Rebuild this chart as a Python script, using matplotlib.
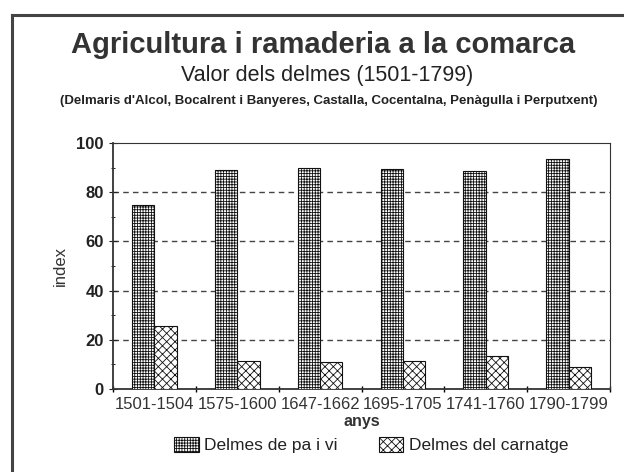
import numpy as np
import matplotlib.pyplot as plt
from matplotlib.lines import Line2D

plt.rcParams['font.family'] = ['Liberation Sans', 'DejaVu Sans']
plt.rcParams['hatch.linewidth'] = 0.6

periods = ['1501-1504', '1575-1600', '1647-1662', '1695-1705', '1741-1760', '1790-1799']
pa_vi = [75, 89, 90, 89.5, 88.5, 93.5]
carnatge = [25.5, 11.5, 11, 11.5, 13.5, 9]

W, H = 624, 472
fig = plt.figure(figsize=(W / 100, H / 100), dpi=100)

# outer frame of the original picture
fig.add_artist(Line2D([12 / W, 12 / W], [0, 1 - 15 / H], color='#444', lw=2.2, transform=fig.transFigure))
fig.add_artist(Line2D([12 / W, 1], [1 - 15 / H, 1 - 15 / H], color='#444', lw=2.2, transform=fig.transFigure))

ax = fig.add_axes([113 / W, 1 - 389 / H, (610 - 113) / W, (389 - 143) / H])

x = np.arange(len(periods))
bw = 0.27
ax.bar(x - bw / 2, pa_vi, bw, color='white', edgecolor='#111', hatch='++++++', lw=0.8,
       label='Delmes de pa i vi', zorder=3)
ax.bar(x + bw / 2, carnatge, bw, color='white', edgecolor='#111', hatch='xxxx', lw=0.8,
       label='Delmes del carnatge', zorder=3)

ax.set_xlim(-0.5, len(periods) - 0.5)
ax.set_ylim(0, 100)
ax.set_yticks([0, 20, 40, 60, 80, 100])
ax.set_yticks(np.arange(0, 101, 10), minor=True)
ax.set_xticks(x)
ax.set_xticklabels(periods, fontsize=12, color='#333')
ax.set_xticks(np.arange(-0.5, len(periods)), minor=True)
ax.tick_params(axis='x', which='major', length=0, pad=6)
ax.tick_params(axis='x', which='minor', length=5, direction='inout', width=1)
ax.tick_params(axis='y', which='major', length=6, direction='inout', labelsize=12, colors='#222')
ax.tick_params(axis='y', which='minor', length=3, direction='inout')
for lbl in ax.get_yticklabels():
    lbl.set_fontweight('bold')

for v in [20, 40, 60, 80]:
    ax.axhline(v, color='#444', lw=1, ls=(0, (4, 3)), zorder=1)

for s in ax.spines.values():
    s.set_color('#333')
ax.spines['left'].set_linewidth(1.3)
ax.spines['bottom'].set_linewidth(1.3)
ax.spines['top'].set_linewidth(0.8)
ax.spines['right'].set_linewidth(0.8)

ax.set_xlabel('anys', fontsize=11.5, fontweight='bold', color='#333', labelpad=1)
ax.set_ylabel('index', fontsize=12, color='#333', labelpad=6)

fig.text(0.518, 1 - 45 / H, 'Agricultura i ramaderia a la comarca', ha='center', va='center',
         fontsize=21, fontweight='bold', color='#333')
fig.text(0.525, 1 - 75 / H, 'Valor dels delmes (1501-1799)', ha='center', va='center',
         fontsize=15.5, color='#222')
fig.text(0.527, 1 - 101 / H,
         "(Delmaris d'Alcol, Bocalrent i Banyeres, Castalla, Cocentalna, Penàgulla i Perputxent)",
         ha='center', va='center', fontsize=9.5, fontweight='bold', color='#222')

fig.legend(loc='center', bbox_to_anchor=(0.595, 1 - 445 / H), ncol=2, frameon=False,
           fontsize=12.5, handlelength=1.4, handleheight=1.0, handletextpad=0.3, columnspacing=2.4,
           labelcolor='#222')

fig.savefig('out.png', dpi=100)
